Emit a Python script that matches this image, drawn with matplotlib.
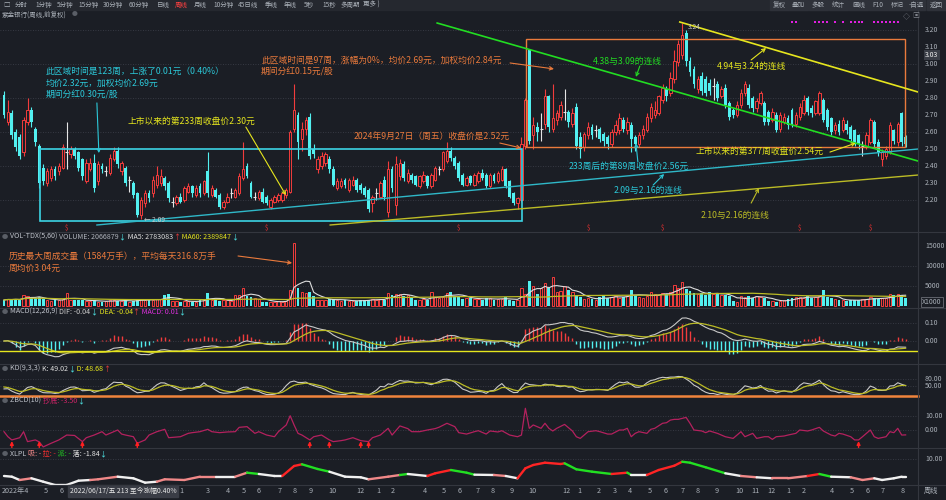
import numpy as np
import pandas as pd
import matplotlib
matplotlib.use('Agg')
import matplotlib.pyplot as plt
import matplotlib.transforms as mtrans
from matplotlib.patches import Rectangle
from matplotlib.lines import Line2D
from matplotlib.collections import LineCollection

plt.rcParams['font.family'] = ['Noto Sans CJK SC', 'DejaVu Sans']

#%% DATA  (weekly candles)
opens = [2.82,2.66,2.71,2.60,2.57,2.48,2.66,2.73,2.62,2.52,
         2.39,2.30,2.33,2.38,2.37,2.39,2.48,2.47,2.50,2.48,
         2.44,2.31,2.38,2.42,2.31,2.40,2.37,2.36,2.44,2.49,
         2.37,2.39,2.32,2.30,2.24,2.11,2.18,2.24,2.24,2.29,
         2.30,2.33,2.30,2.19,2.18,2.22,2.20,2.25,2.28,2.23,
         2.28,2.24,2.37,2.23,2.26,2.23,2.16,2.19,2.24,2.22,
         2.24,2.33,2.40,2.30,2.22,2.21,2.25,2.22,2.16,2.19,
         2.20,2.20,2.23,2.25,2.62,2.70,2.56,2.62,2.69,2.50,
         2.38,2.40,2.42,2.44,2.38,2.27,2.28,2.32,2.26,2.29,
         2.32,2.29,2.27,2.26,2.18,2.24,2.22,2.32,2.13,2.38,
         2.17,2.34,2.41,2.31,2.35,2.34,2.28,2.31,2.34,2.28,
         2.32,2.38,2.38,2.43,2.49,2.45,2.42,2.35,2.29,2.34,
         2.29,2.31,2.36,2.35,2.28,2.35,2.31,2.32,2.38,2.31,
         2.24,2.18,2.20,2.52,3.08,2.58,2.63,2.62,2.65,2.81,
         2.62,2.67,2.69,2.72,2.72,2.65,2.75,2.57,2.51,2.58,
         2.63,2.61,2.62,2.59,2.57,2.53,2.60,2.61,2.67,2.61,
         2.64,2.57,2.53,2.58,2.61,2.68,2.70,2.71,2.79,2.85,
         2.83,2.91,3.01,3.05,3.18,3.02,2.97,2.85,2.93,2.91,
         2.89,2.87,2.88,2.81,2.86,2.77,2.73,2.70,2.76,2.83,
         2.86,2.80,2.74,2.77,2.77,2.72,2.67,2.70,2.62,2.66,
         2.68,2.73,2.65,2.69,2.71,2.80,2.74,2.71,2.71,2.79,
         2.73,2.68,2.61,2.65,2.61,2.65,2.63,2.61,2.58,2.52,
         2.52,2.54,2.66,2.54,2.44,2.46,2.48,2.61,2.54,2.71,
         2.57]
highs = [2.84,2.79,2.73,2.62,2.59,2.69,2.80,2.75,2.63,2.53,
         2.41,2.39,2.40,2.40,2.42,2.53,2.66,2.52,2.51,2.49,
         2.45,2.44,2.45,2.47,2.43,2.42,2.40,2.47,2.51,2.51,
         2.43,2.40,2.34,2.31,2.25,2.22,2.26,2.26,2.34,2.40,
         2.38,2.34,2.31,2.22,2.23,2.24,2.28,2.30,2.29,2.29,
         2.30,2.32,2.48,2.29,2.27,2.24,2.20,2.24,2.27,2.27,
         2.36,2.54,2.42,2.31,2.25,2.26,2.27,2.23,2.21,2.23,
         2.24,2.25,2.27,2.61,2.88,2.72,2.66,2.69,2.71,2.53,
         2.46,2.48,2.48,2.46,2.40,2.33,2.33,2.33,2.33,2.34,
         2.33,2.30,2.28,2.27,2.23,2.27,2.31,2.34,2.43,2.40,
         2.46,2.44,2.43,2.38,2.36,2.35,2.35,2.37,2.35,2.36,
         2.40,2.40,2.49,2.54,2.51,2.46,2.43,2.36,2.34,2.35,
         2.36,2.37,2.38,2.36,2.36,2.36,2.37,2.40,2.39,2.32,
         2.25,2.22,2.57,2.80,3.09,2.69,2.66,2.71,2.85,2.82,
         2.88,2.73,2.78,2.85,2.73,2.74,2.77,2.60,2.60,2.66,
         2.65,2.64,2.63,2.60,2.58,2.62,2.67,2.71,2.69,2.69,
         2.66,2.58,2.60,2.64,2.71,2.77,2.78,2.82,2.88,2.87,
         2.95,3.08,3.14,3.24,3.20,3.04,2.99,2.93,2.95,2.93,
         2.91,2.92,2.90,2.87,2.88,2.78,2.74,2.78,2.85,2.90,
         2.88,2.81,2.80,2.84,2.78,2.73,2.74,2.72,2.72,2.71,
         2.70,2.74,2.72,2.77,2.82,2.81,2.76,2.79,2.84,2.80,
         2.74,2.69,2.66,2.67,2.69,2.67,2.64,2.62,2.59,2.55,
         2.60,2.68,2.67,2.56,2.50,2.52,2.66,2.62,2.66,2.72,
         2.58]
lows = [2.68,2.64,2.56,2.49,2.44,2.46,2.64,2.63,2.52,2.27,
        2.29,2.28,2.31,2.32,2.35,2.38,2.38,2.45,2.44,2.37,
        2.32,2.30,2.37,2.25,2.29,2.36,2.34,2.35,2.43,2.39,
        2.35,2.28,2.25,2.21,2.10,2.09,2.16,2.19,2.22,2.27,
        2.28,2.26,2.19,2.16,2.17,2.18,2.19,2.24,2.22,2.22,
        2.22,2.23,2.22,2.22,2.21,2.15,2.15,2.18,2.21,2.21,
        2.23,2.32,2.33,2.21,2.20,2.20,2.18,2.17,2.15,2.18,
        2.19,2.19,2.21,2.24,2.60,2.44,2.49,2.58,2.44,2.45,
        2.36,2.38,2.40,2.36,2.28,2.26,2.27,2.27,2.25,2.28,
        2.25,2.24,2.22,2.13,2.13,2.20,2.21,2.20,2.10,2.25,
        2.11,2.32,2.31,2.30,2.30,2.28,2.27,2.30,2.27,2.27,
        2.31,2.35,2.37,2.42,2.43,2.38,2.31,2.28,2.28,2.29,
        2.28,2.30,2.32,2.27,2.27,2.30,2.30,2.31,2.27,2.21,
        2.17,2.15,2.19,2.50,2.53,2.50,2.55,2.55,2.62,2.60,
        2.60,2.64,2.67,2.67,2.63,2.63,2.50,2.45,2.49,2.56,
        2.56,2.57,2.54,2.52,2.50,2.51,2.58,2.59,2.60,2.59,
        2.48,2.49,2.51,2.56,2.60,2.66,2.68,2.70,2.77,2.78,
        2.81,2.89,2.99,3.03,2.99,2.93,2.86,2.83,2.82,2.81,
        2.82,2.79,2.78,2.80,2.74,2.67,2.68,2.69,2.74,2.81,
        2.74,2.72,2.72,2.76,2.64,2.64,2.66,2.60,2.60,2.65,
        2.62,2.63,2.63,2.67,2.70,2.70,2.69,2.70,2.70,2.66,
        2.61,2.58,2.59,2.58,2.60,2.59,2.54,2.52,2.50,2.46,
        2.50,2.53,2.51,2.46,2.40,2.44,2.47,2.53,2.52,2.52,
        2.51]
closes = [2.70,2.72,2.58,2.51,2.46,2.67,2.73,2.66,2.54,2.30,
          2.31,2.37,2.38,2.34,2.40,2.51,2.48,2.50,2.46,2.39,
          2.34,2.42,2.42,2.27,2.41,2.38,2.37,2.45,2.49,2.41,
          2.42,2.30,2.32,2.23,2.11,2.20,2.24,2.21,2.32,2.35,
          2.34,2.28,2.21,2.19,2.22,2.19,2.27,2.28,2.24,2.27,
          2.24,2.31,2.24,2.27,2.22,2.16,2.19,2.22,2.24,2.26,
          2.34,2.38,2.34,2.22,2.22,2.25,2.19,2.18,2.20,2.22,
          2.23,2.24,2.26,2.60,2.73,2.54,2.62,2.67,2.46,2.47,
          2.44,2.46,2.47,2.38,2.29,2.31,2.31,2.29,2.32,2.32,
          2.26,2.26,2.23,2.15,2.22,2.24,2.30,2.22,2.38,2.27,
          2.41,2.42,2.33,2.36,2.32,2.29,2.34,2.35,2.28,2.35,
          2.39,2.38,2.48,2.49,2.45,2.40,2.33,2.29,2.33,2.30,
          2.35,2.36,2.33,2.28,2.35,2.31,2.36,2.38,2.28,2.22,
          2.18,2.21,2.53,2.79,2.55,2.64,2.60,2.62,2.81,2.63,
          2.68,2.71,2.76,2.72,2.66,2.71,2.52,2.50,2.59,2.63,
          2.58,2.61,2.56,2.55,2.53,2.60,2.64,2.68,2.62,2.66,
          2.56,2.53,2.58,2.62,2.69,2.75,2.73,2.81,2.86,2.81,
          2.92,3.02,3.12,3.17,3.02,2.95,2.88,2.91,2.84,2.83,
          2.84,2.87,2.80,2.85,2.76,2.69,2.70,2.76,2.83,2.88,
          2.76,2.74,2.78,2.83,2.66,2.66,2.72,2.61,2.70,2.69,
          2.64,2.65,2.70,2.75,2.79,2.72,2.71,2.78,2.83,2.67,
          2.63,2.60,2.64,2.60,2.67,2.61,2.56,2.54,2.53,2.52,
          2.58,2.67,2.53,2.48,2.48,2.50,2.64,2.55,2.65,2.54,
          2.53]
# weekly volume, x1000
volumes = [1500,1750,1600,1800,1500,2750,2600,2000,1900,2200,
           1800,1500,1300,1400,1600,1700,3250,1500,1600,1400,
           1500,1300,1200,1400,1100,1000,1200,1400,1500,1300,
           1200,1400,1100,1300,1600,1700,1500,1400,1600,1700,
           1800,2700,2900,1300,1200,1100,1300,1200,1000,1100,
           1400,1800,3250,1600,1500,1300,1400,1500,1200,2700,
           2800,4500,2500,2300,2000,1800,1100,1000,1000,1100,
           1200,1100,1300,4000,15840,4500,3500,3200,3500,2500,
           1500,1400,1600,1800,1700,1500,1300,1400,1300,1200,
           1300,1400,1500,1600,1800,1500,1700,1600,3250,2800,
           3000,2900,2600,2700,2000,1600,1500,1700,1600,3500,
           2200,2000,2300,3250,3500,2600,2400,1800,2100,1900,
           1700,1800,1600,1900,2000,1500,1700,1800,2200,1600,
           1300,1400,4500,3000,6250,5000,3000,4500,5750,4500,
           7250,3500,3800,5000,4000,3500,2500,2200,1800,2000,
           1700,1500,2200,2400,2100,2300,2500,2000,2300,2600,
           4000,2800,2300,2100,2400,3500,2900,2700,3200,3000,
           3500,5250,4500,6000,4250,3800,3200,3000,3300,2800,
           3500,3000,3200,2700,2800,2500,1200,1000,2500,2200,
           2400,2000,2600,2300,2000,1300,1200,1100,1300,1500,
           1700,2000,2200,2300,1900,2600,2100,2200,2400,4000,
           2300,1900,1700,1500,1400,1300,1500,1600,1400,1700,
           1800,2200,1900,1800,2000,1900,2900,2700,3000,2800,
           2067]

# ZBCD(10) line, sampled by week
zb_idx = [0,1,2,4,5,6,8,9,10,12,14,16,18,20,21,23,25,26,27,29,
          30,31,33,34,36,37,39,41,42,45,47,48,50,52,53,55,57,59,60,62,
          64,65,67,69,70,72,73,74,75,76,78,79,81,83,84,86,87,89,91,93,
          94,96,98,99,101,103,104,106,108,110,111,113,115,116,118,120,121,123,124,126,
          127,129,131,132,133,134,135,137,138,139,140,141,143,145,146,147,148,149,151,152,
          154,155,157,158,159,160,161,162,164,165,166,168,169,170,171,172,174,175,176,178,
          179,180,182,184,186,187,188,189,191,192,194,195,196,197,199,200,202,203,205,206,
          208,209,211,212,213,214,216,217,218,219,221,222,223,225,226,227,228,229,230]
zb_val = [-1.2,-4.8,-7.1,-5.5,-1.2,-8.3,-7.1,-8.5,-12.1,-9.5,-7.1,-3.6,-3.9,-8.3,-5.5,-3.6,-1.2,-3.6,-2.4,0.0,
          -2.9,-3.6,-4.8,-9.5,-7.1,-3.6,-1.2,0.5,-5.5,-4.8,-2.4,-1.9,-1.2,0.5,-1.2,-1.9,-1.4,-1.2,1.9,2.4,
          -2.4,-1.2,-3.6,-4.8,-1.2,3.6,10.2,3.6,-2.4,-3.6,-7.1,-4.8,-3.6,-7.1,-8.3,-7.6,-7.1,-5.5,-7.6,-8.3,
          -5.5,-3.6,1.2,-3.6,2.9,1.0,-1.2,-1.2,0.0,1.0,2.0,4.8,2.4,-1.9,-2.9,-1.2,-0.5,-2.9,-0.7,-1.4,
          -0.5,-3.6,-4.8,-3.6,15.5,1.2,3.6,1.2,4.8,1.2,-0.7,1.2,4.0,-0.7,-4.8,-6.0,-3.6,-1.2,-0.5,-1.2,
          -2.9,-2.9,0.0,0.0,1.2,-4.8,-2.4,-1.2,-2.4,0.5,1.2,4.8,5.2,7.1,7.6,7.6,9.0,4.8,0.0,-0.7,
          -1.9,-0.7,-2.4,-4.8,-6.0,-3.6,-1.2,-4.8,-2.4,-6.0,-4.8,-4.8,-6.7,-4.8,-4.3,-3.6,-2.4,0.0,-0.7,0.0,
          1.9,-0.7,-3.6,-4.3,-2.4,-2.9,-4.8,-7.1,-7.1,-4.8,0.0,-4.8,-6.0,-4.8,-1.2,-1.9,1.2,-3.6,-3.5]
zb_arrows = [2, 9, 20, 34, 78, 83, 91, 93, 218]

# XLPL line, sampled by week, and its colour runs (start, end, kind)
xl_idx = [0,2,4,7,10,13,16,19,22,24,29,33,36,39,41,46,50,54,59,62,
          65,69,71,74,76,80,83,87,91,93,98,101,103,108,110,114,118,120,125,128,
          131,133,135,138,142,143,146,150,155,159,160,164,167,171,173,175,179,184,188,192,
          196,200,205,208,211,216,219,222,224,227,229,230]
xl_val = [-1.37,-1.84,-4.05,-2.91,-5.18,-7.39,-7.39,-4.52,-4.05,-3.58,-1.84,-2.91,-5.85,-5.18,-3.58,-4.05,-1.84,-1.84,-1.84,0.84,
          -0.03,-1.37,-1.37,5.32,6.45,3.31,1.51,-1.84,-2.24,-3.58,-1.84,-0.70,-0.03,-1.37,0.43,2.64,0.84,-0.50,-0.70,-1.37,
          -2.91,3.78,5.99,7.53,6.66,7.12,3.11,1.51,-0.03,0.84,-0.70,-0.70,2.64,5.52,8.19,7.53,4.45,0.43,-1.37,-2.24,
          -2.91,-2.91,-1.37,-0.03,-1.84,-2.24,-4.05,-2.91,-4.05,-2.91,-1.84,-1.84]
xl_runs = [(0,5,'w'),(5,8,'p'),(8,22,'w'),(22,28,'p'),(28,40,'w'),(40,53,'p'),(53,59,'w'),(59,62,'p'),
           (62,63,'r'),(63,67,'g'),(67,72,'w'),(72,76,'r'),(76,84,'g'),(84,94,'w'),(94,97,'p'),(97,99,'w'),
           (99,102,'p'),(102,104,'g'),(104,108,'w'),(108,113,'r'),(113,121,'g'),(121,125,'w'),(125,128,'p'),
           (128,131,'w'),(131,137,'r'),(137,140,'g'),(140,143,'r'),(143,155,'g'),(155,159,'r'),(159,160,'g'),
           (160,164,'w'),(164,174,'r'),(174,185,'g'),(185,188,'w'),(188,191,'p'),(191,196,'w'),(196,205,'p'),
           (205,208,'r'),(208,210,'g'),(210,217,'w'),(217,222,'p'),(222,226,'w'),(226,228,'p'),(228,231,'w')]

div_idx = [16, 67, 116, 149, 168, 203, 221]
dots_idx = [201,202,207,208,209,210,212,214,216,217,218,219,222,223,224,225,226,227,228]

month_lab = ['2022年4','5','6','1','3','4','5','6','7','8','9','10','12','1','2','4','5','6',
             '7','8','9','10','12','1','2','3','4','5','6','7','8','9','10','11','12','1','2','4','5','6','7','8']
month_pos = [2.8,10.7,14.8,45.3,52,57.1,61.2,65,70.2,74.2,78.1,83.7,90.8,95.4,99.2,107.4,112.2,116.3,
             120.7,124.7,129.6,134.9,143.4,146.7,151.8,155.9,159.7,164.8,168.9,173,177,181.9,187.5,191.6,195.7,
             200,204.1,211.2,216.3,220.2,224.2,229.3]

#%% COLOURS
BG = '#1b1e25'
RED = '#f23c3c'
CYAN = '#52f0f0'
WHITE = '#e4e4e4'
GRID = '#3f434d'
TXT = '#aab0b8'
YEL = '#e6e61e'
OLIVE = '#bcbc26'
ORANGE = '#ea7a3c'
GREEN = '#22dd22'
TCYAN = '#2cc8d8'
XLC = {'w': '#f0f0f0', 'p': '#f08888', 'r': '#ff2424', 'g': '#22e022'}

W, H = 946, 500
def fy(y):
    return 1 - y / H

o = np.array(opens); h = np.array(highs); l = np.array(lows); c = np.array(closes)
v = np.array(volumes, dtype=float)
idx = np.arange(len(c))
XL = (-1.02, 233.16)

fig = plt.figure(figsize=(W / 100, H / 100), dpi=100, facecolor=BG)

def panel(top, bot, ylim):
    ax = fig.add_axes([0, 1 - bot / H, 918 / W, (bot - top) / H])
    ax.set_facecolor(BG)
    for s in ax.spines.values():
        s.set_visible(False)
    ax.set_xticks([]); ax.set_yticks([])
    ax.set_xlim(XL); ax.set_ylim(ylim)
    return ax

def rlabel(ax, val, s, **kw):
    ax.text(925 / 918, val, s, transform=ax.get_yaxis_transform(), color=TXT,
            fontsize=5.0, va='center', ha='left', clip_on=False, **kw)

def dotted(ax, vals):
    for y in vals:
        ax.axhline(y, color=GRID, lw=0.6, ls=(0, (1, 2)), zorder=0)

#%% PRICE
axp = panel(20, 232, (2.0118, 3.2588))
dotted(axp, [3.2, 3.0, 2.8, 2.6, 2.4, 2.2])
up = c > o; dn = c < o; fl = c == o
wc = np.where(up, RED, np.where(dn, CYAN, WHITE))
axp.vlines(idx, l, h, colors=wc, lw=0.8, zorder=2)
axp.bar(idx[dn], (o - c)[dn], bottom=c[dn], width=0.72, color=CYAN, lw=0, zorder=3)
axp.bar(idx[up], (c - o)[up], bottom=o[up], width=0.62, facecolor=BG, edgecolor=RED, lw=0.7, zorder=3)
axp.hlines(c[fl], idx[fl] - 0.38, idx[fl] + 0.38, colors=WHITE, lw=0.8, zorder=3)
for p in np.arange(2.2, 3.25, 0.1):
    rlabel(axp, p, '%.2f' % p)
axp.text(925 / 918, 3.03, '3.03', transform=axp.get_yaxis_transform(), color='#f0f0f0', fontsize=5.0,
         va='bottom', ha='left', clip_on=False,
         bbox=dict(boxstyle='square,pad=0.2', fc='#3a3e47', ec='none'))

# boxes and trend lines
axp.add_patch(Rectangle((9.2, 2.076), 132.1 - 9.2, 2.50 - 2.076, fill=False, ec='#3cd4e4', lw=1.2, zorder=4))
axp.add_patch(Rectangle((133.2, 2.512), 229.8 - 133.2, 3.147 - 2.512, fill=False, ec=ORANGE, lw=1.0, zorder=4))
axp.plot([110.5, 233.2], [3.241, 2.429], color=GREEN, lw=1.2, zorder=5)
axp.plot([172.4, 233.2], [3.247, 2.835], color=YEL, lw=1.2, zorder=5)
axp.plot([23.7, 233.2], [2.053, 2.500], color='#2fb8c8', lw=1.0, zorder=5)
axp.plot([83.2, 233.2], [2.053, 2.347], color=OLIVE, lw=1.0, zorder=5)

def note(ax, x, y, s, col, size=6.3):
    ax.text(x, y, s, color=col, fontsize=size, va='center', ha='left', zorder=6)

def arrow(ax, tail, tip, col):
    ax.annotate('', xy=tip, xytext=tail, zorder=6,
                arrowprops=dict(arrowstyle='->', color=col, lw=0.8, shrinkA=0, shrinkB=0, mutation_scale=6))

note(axp, 10.7, 2.959, '此区域时间是123周，上涨了0.01元（0.40%）', TCYAN)
note(axp, 10.7, 2.888, '均价2.32元，加权均价2.69元', TCYAN)
note(axp, 10.7, 2.818, '期间分红0.30元/股', TCYAN)
arrow(axp, (23.7, 2.771), (24.2, 2.476), TCYAN)
note(axp, 31.6, 2.665, '上市以来的第233周收盘价2.30元', YEL)
arrow(axp, (61.7, 2.629), (71.9, 2.229), YEL)
note(axp, 65.6, 3.024, '此区域时间是97周，涨幅为0%，均价2.69元，加权均价2.84元', ORANGE)
note(axp, 65.6, 2.953, '期间分红0.15元/股', ORANGE)
arrow(axp, (129.1, 3.006), (140.3, 2.971), ORANGE)
note(axp, 89.3, 2.576, '2024年9月27日（周五）收盘价是2.52元', ORANGE)
arrow(axp, (126.5, 2.535), (131.9, 2.506), ORANGE)
note(axp, 150.3, 3.018, '4.38与3.09的连线', GREEN)
arrow(axp, (162.2, 2.988), (161.2, 2.924), GREEN)
note(axp, 181.9, 2.988, '4.94与3.24的连线', YEL)
arrow(axp, (190.6, 3.024), (194.4, 3.094), YEL)
note(axp, 144.1, 2.40, '233周后的第89周收盘价2.56元', TCYAN)
arrow(axp, (161.7, 2.424), (161.2, 2.535), TCYAN)
note(axp, 155.6, 2.259, '2.09与2.16的连线', TCYAN)
arrow(axp, (165.6, 2.288), (168.4, 2.353), TCYAN)
note(axp, 177.6, 2.112, '2.10与2.16的连线', OLIVE)
arrow(axp, (190.6, 2.182), (192.6, 2.271), OLIVE)
note(axp, 176.5, 2.488, '上市以来的第377周收盘价2.54元', YEL)
arrow(axp, (210.7, 2.482), (217.3, 2.535), YEL)
imax = int(np.argmax(h)); imin = int(np.argmin(l))
axp.text(imax + 1.5, h[imax] - 0.02, '3.24', color='#c8c8c8', fontsize=4.8, va='center', zorder=6)
axp.text(imin + 0.6, l[imin] - 0.01, '← 2.09', color='#c8c8c8', fontsize=4.8, va='center', zorder=6)
for d in div_idx:
    axp.text(d, 2.035, '$', color='#e03030', fontsize=4.5, ha='center', va='center')
axp.scatter(dots_idx, [3.247] * len(dots_idx), s=1.6, marker='s', color='#e020e0', lw=0, zorder=6)

#%% VOLUME
axv = panel(232, 308, (-500, 18500))
dotted(axv, [5000, 10000])
vup = c >= o
axv.bar(idx[~vup], v[~vup], width=0.72, color=CYAN, lw=0, zorder=2)
axv.bar(idx[vup], v[vup], width=0.62, facecolor=BG, edgecolor=RED, lw=0.7, zorder=2)
vs = pd.Series(v)
axv.plot(idx, vs.rolling(5, min_periods=1).mean(), color='#dddddd', lw=0.8, zorder=3)
axv.plot(idx, vs.rolling(60, min_periods=1).mean(), color=OLIVE, lw=0.9, zorder=3)
for t in [15000, 10000, 5000]:
    rlabel(axv, t, str(t))
axv.text(922 / 918, 1000, 'X1000', transform=axv.get_yaxis_transform(), color=TXT, fontsize=5.0,
         va='center', ha='left', clip_on=False,
         bbox=dict(boxstyle='square,pad=0.2', fc=BG, ec='#6a6e76', lw=0.6))
note(axv, 1.3, 12500, '历史最大周成交量（1584万手），平均每天316.8万手', ORANGE)
note(axv, 1.3, 9500, '周均价3.04元', ORANGE)
arrow(axv, (59.7, 12500), (73.5, 10750), ORANGE)

#%% MACD
axm = panel(308, 364, (-0.1278, 0.1833))
dotted(axm, [0.10, 0.0])
s = pd.Series(c)
dif = s.ewm(span=12, adjust=False).mean() - s.ewm(span=26, adjust=False).mean()
dea = dif.ewm(span=9, adjust=False).mean()
mh = (2 * (dif - dea)).values
axm.vlines(idx, 0, mh, colors=np.where(mh >= 0, RED, CYAN), lw=1.0, zorder=2)
axm.plot(idx, dif, color='#c8c8c8', lw=0.8, zorder=3)
axm.plot(idx, dea, color=OLIVE, lw=0.9, zorder=3)
axm.axhline(-0.056, color=YEL, lw=1.0, zorder=3)
rlabel(axm, 0.10, '0.10'); rlabel(axm, 0.0, '0.00')

#%% KD
axk = panel(364, 396, (7.14, 144.3))
dotted(axk, [80, 50])
kk, dd = [], []
k = d = 50.0
for i in range(len(c)):
    lo = l[max(0, i - 8):i + 1].min(); hi = h[max(0, i - 8):i + 1].max()
    rsv = (c[i] - lo) / (hi - lo) * 100 if hi > lo else 50
    k = (2 * k + rsv) / 3; d = (2 * d + k) / 3
    kk.append(k); dd.append(d)
axk.plot(idx, kk, color='#c8c8c8', lw=0.8)
axk.plot(idx, dd, color=OLIVE, lw=0.9)
rlabel(axk, 80, '80.00'); rlabel(axk, 50, '50.00')

#%% ZBCD
axz = panel(396, 448, (-12.86, 24.29))
dotted(axz, [10, 0])
axz.plot(zb_idx, zb_val, color='#b4215e', lw=0.9)
for a in zb_arrows:
    axz.annotate('', xy=(a, -7.9), xytext=(a, -12.6),
                 arrowprops=dict(arrowstyle='-|>', color='#ff2020', lw=1.0, shrinkA=0, shrinkB=0, mutation_scale=5))
rlabel(axz, 10, '10.00'); rlabel(axz, 0, '0.00')

#%% XLPL
axx = panel(448, 485, (-7.4, 17.36))
dotted(axx, [10])
segs, cols = [], []
for a, b, va, vb in zip(xl_idx[:-1], xl_idx[1:], xl_val[:-1], xl_val[1:]):
    mid = (a + b) / 2
    kind = 'w'
    for s0, s1, kd in xl_runs:
        if s0 <= mid < s1:
            kind = kd
    segs.append([(a, va), (b, vb)])
    cols.append(XLC[kind])
axx.add_collection(LineCollection(segs, colors=cols, linewidths=1.7, capstyle='round'))
rlabel(axx, 10, '10.00')

#%% separators, header, legends
for y, col, lw in [(232, '#34373f', 0.8), (308, '#34373f', 0.8), (364, '#34373f', 0.8),
                   (448, '#34373f', 0.8), (485, '#34373f', 0.8), (396, '#f0843c', 1.8)]:
    fig.add_artist(Line2D([0, 1 if col != '#f0843c' else 918 / W], [fy(y), fy(y)], color=col, lw=lw))
fig.add_artist(Line2D([918 / W, 918 / W], [0, fy(10)], color='#34373f', lw=0.8))
fig.add_artist(Rectangle((0, fy(10)), 1, 10 / H, color='#25282f', transform=fig.transFigure))

tool = [('□', 3), ('分时', 15), ('1分钟', 35), ('5分钟', 57), ('15分钟', 78), ('30分钟', 103), ('60分钟', 129),
        ('日线', 157), ('周线', 175), ('月线', 194), ('10分钟', 213), ('45日线', 238), ('季线', 265),
        ('年线', 284), ('5秒', 304), ('15秒', 322), ('多周期', 341), ('更多 )', 363)]
for s_, x in tool:
    fig.text(x / W, fy(5), s_, color='#ff4040' if s_ == '周线' else TXT, fontsize=4.7, va='center')
for s_, x in [('复权', 773), ('叠加', 792), ('多股', 812), ('统计', 832), ('画线', 852), ('F10', 872),
              ('标记', 891), ('-自选', 909), ('返回', 930)]:
    fig.add_artist(Rectangle(((x - 3) / W, fy(10)), 19 / W, 10 / H, color='#2e3139', transform=fig.transFigure))
    fig.text(x / W, fy(5), s_, color=TXT, fontsize=4.7, va='center')
fig.text(2 / W, fy(15), '紫金银行(周线,前复权)', color=TXT, fontsize=4.7, va='center')
fig.text(72 / W, fy(15), '●', color='#5a5e66', fontsize=4.2, va='center')
fig.text(903 / W, fy(16), '◇', color='#80848c', fontsize=5, va='center')
fig.text(912 / W, fy(16), '▣', color='#80848c', fontsize=5, va='center')

rend = fig.canvas.get_renderer()
def seq(x, y, pieces, size=5.1):
    fig.text(x / W, fy(y), '●', color='#5a5e66', fontsize=4.5, va='center')
    x += 8
    for s_, col in pieces:
        t = fig.text(x / W, fy(y), s_, color=col, fontsize=size, va='center')
        x += t.get_window_extent(renderer=rend).width

LG = '#c0c4cc'
seq(2, 237, [('VOL-TDX(5,60) ', LG), ('VOLUME: 2066879', '#b0b4bc'), ('↓', CYAN),
             (' MA5: 2783083', '#e0e0e0'), ('↑', RED), (' MA60: 2389847', YEL), ('↓', CYAN)])
seq(2, 312, [('MACD(12,26,9) ', LG), ('DIF: -0.04', '#d0d0d0'), ('↓', CYAN),
             (' DEA: -0.04', YEL), ('↑', RED), (' MACD: 0.01', '#e030e0'), ('↓', CYAN)])
seq(2, 369, [('KD(9,3,3) ', LG), ('K: 49.02', '#e0e0e0'), ('↓', CYAN), (' D: 48.68', YEL), ('↑', RED)])
seq(2, 401, [('ZBCD(10) ', LG), ('抄底: -3.50', '#d02468'), ('↓', CYAN)])
seq(2, 454, [('XLPL ', LG), ('吸: -', '#f08888'), (' 拉: -', '#ff3030'), (' 派: -', '#22d022'),
             (' 落: -1.84', '#e8e8e8'), ('↓', CYAN)])

# time axis
tr = mtrans.blended_transform_factory(axx.transData, fig.transFigure)
for lab, pos in zip(month_lab, month_pos):
    axx.text(pos, fy(491), lab, transform=tr, color=TXT, fontsize=5.2, ha='center', va='center', clip_on=False)
fig.add_artist(Rectangle((68 / W, fy(497)), 110 / W, 12 / H, color='#3a3d46', transform=fig.transFigure))
fig.text(70 / W, fy(491), '2022/06/17/五 213 至今涨幅0.40%', color='#e8e8e8', fontsize=4.9, va='center')
fig.text(924 / W, fy(491), '周线', color=TXT, fontsize=5.2, va='center')

fig.savefig('out.png', dpi=100, facecolor=BG)
